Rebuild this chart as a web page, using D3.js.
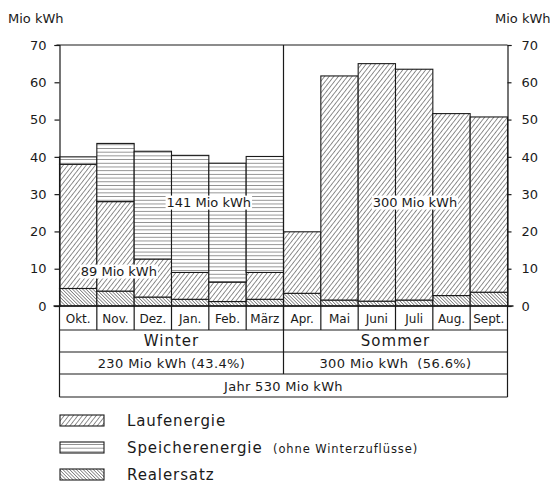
<!DOCTYPE html>
<html><head><meta charset="utf-8">
<script src="https://cdn.jsdelivr.net/npm/d3@7/dist/d3.min.js"></script>
<style>
html,body{margin:0;padding:0;background:#fff;}
svg{display:block;font-family:"DejaVu Sans",sans-serif;}
text{fill:#1a1a1a;}
</style></head>
<body><svg id="c" width="550" height="484"></svg>
<script>
const months = ["Okt.","Nov.","Dez.","Jan.","Feb.","März","Apr.","Mai","Juni","Juli","Aug.","Sept."];
const realersatz  = [4.7, 4.0, 2.4, 1.8, 1.2, 1.8, 3.4, 1.6, 1.3, 1.6, 2.8, 3.7];
const laufenergie = [33.3, 24.0, 10.2, 7.2, 5.2, 7.2, 16.5, 60.1, 63.7, 61.9, 48.8, 47.0];
const speicher    = [2.0, 15.6, 28.9, 31.4, 31.9, 31.1, 0, 0, 0, 0, 0, 0];
const yTicks = [0,10,20,30,40,50,60,70];
const seasons = ["Winter","Sommer"];
const seasonTotals = ["230 Mio kWh (43.4%)","300 Mio kWh  (56.6%)"];
const yearTotal = "Jahr 530 Mio kWh";
const annotations = [
  {text:"141 Mio kWh", month:"Jan.", value:27.6, dx:0.5},
  {text:"89 Mio kWh", month:"Nov.", value:9.1, dx:0.09},
  {text:"300 Mio kWh", month:"Juni", value:27.6, dx:1.02}
];
const legendItems = ["Laufenergie","Speicherenergie","Realersatz"];
const legendNote = "(ohne Winterzuflüsse)";
const unitLabel = "Mio kWh";

const svg = d3.select("#c");
const x = d3.scaleBand().domain(months).range([59.5, 507.5]).padding(0);
const y = d3.scaleLinear().domain([0,70]).range([306,45]);
const ink = "#1a1a1a";

// patterns
const defs = svg.append("defs");
function hatch(id, angle, spacing, w){
  const p = defs.append("pattern").attr("id",id).attr("patternUnits","userSpaceOnUse")
    .attr("width",spacing).attr("height",spacing)
    .attr("patternTransform",`rotate(${angle})`);
  p.append("rect").attr("width",spacing).attr("height",spacing).attr("fill","#fff");
  p.append("line").attr("x1",0).attr("y1",0).attr("x2",0).attr("y2",spacing)
    .attr("stroke","#222").attr("stroke-width",w);
}
hatch("pLauf", 38, 3.6, 1.0);
hatch("pReal", -45, 2.4, 0.95);
hatch("pSpeich", 90, 3.7, 0.95);
const fills = ["url(#pReal)","url(#pLauf)","url(#pSpeich)"];

const data = months.map((m,i)=>({m, r:realersatz[i], l:laufenergie[i], s:speicher[i]}));
const stack = d3.stack().keys(["r","l","s"])(data);

const g = svg.append("g");
stack.forEach((layer,k)=>{
  g.selectAll(null).data(layer.filter(d=>d[1]-d[0]>0)).join("rect")
    .attr("x",d=>x(d.data.m)).attr("width",x.bandwidth())
    .attr("y",d=>y(d[1])).attr("height",d=>y(d[0])-y(d[1]))
    .attr("fill",fills[k]).attr("stroke",ink).attr("stroke-width",1.1);
});

// annotations with white knockout
annotations.forEach(a=>{
  const cx = x(a.month)+x.bandwidth()/2 + a.dx*x.bandwidth();
  const t = svg.append("text").attr("x",cx).attr("y",y(a.value)).attr("text-anchor","middle")
    .attr("dominant-baseline","middle").attr("font-size",13).text(a.text);
  const bb = t.node().getBBox();
  svg.insert("rect", () => t.node()).attr("x",bb.x-1).attr("y",bb.y+1).attr("width",bb.width+2).attr("height",bb.height-1).attr("fill","#fff");
});

// frame
const L = x.range()[0], R = x.range()[1], T = y(70), B = y(0);
const line = (x1,y1,x2,y2,w=1.2)=>svg.append("line").attr("x1",x1).attr("y1",y1).attr("x2",x2).attr("y2",y2).attr("stroke",ink).attr("stroke-width",w);
line(L-3,T,R,T);
line(x("Apr."),T,x("Apr."),374);

// axes
const axL = svg.append("g").attr("transform",`translate(${L},0)`)
  .call(d3.axisLeft(y).tickValues(yTicks).tickSize(5).tickPadding(8).tickFormat(d3.format("d")));
const axR = svg.append("g").attr("transform",`translate(${R},0)`)
  .call(d3.axisRight(y).tickValues(yTicks).tickSize(4).tickPadding(10).tickFormat(d3.format("d")));
[axL,axR].forEach(a=>{
  a.selectAll("path.domain").attr("stroke",ink).attr("stroke-width",1.2);
  a.selectAll(".tick line").attr("stroke",ink).attr("stroke-width",1.2);
  a.selectAll(".tick text").attr("font-size",13).attr("font-family","DejaVu Sans").attr("fill",ink);
});
line(L-6,B,R+6,B,1.3);

svg.append("text").attr("x",8).attr("y",23).attr("font-size",13).text(unitLabel);
svg.append("text").attr("x",495).attr("y",23).attr("font-size",13).text(unitLabel);

// table
const rows = [306,330,352,374,397];
rows.slice(1).forEach(yy=>line(L,yy,R,yy));
line(L,B,L,397); line(R,B,R,397);
months.forEach((m,i)=>{
  if(i>0) line(x(m),B,x(m),330);
  svg.append("text").attr("x",x(m)+x.bandwidth()/2).attr("y",323).attr("text-anchor","middle")
    .attr("font-size",12).text(m);
});
const mid = x("Apr.");
const centers = [(L+mid)/2,(mid+R)/2];
seasons.forEach((s,i)=>svg.append("text").attr("x",centers[i]).attr("y",346).attr("text-anchor","middle")
  .attr("font-size",15).attr("letter-spacing",1).text(s));
seasonTotals.forEach((s,i)=>svg.append("text").attr("x",centers[i]).attr("y",368).attr("text-anchor","middle")
  .attr("font-size",13).attr("letter-spacing",0.4).attr("xml:space","preserve").style("white-space","pre").text(s));
svg.append("text").attr("x",(L+R)/2).attr("y",391).attr("text-anchor","middle")
  .attr("font-size",13).attr("letter-spacing",0.3).text(yearTotal);

// legend
const legFills = ["url(#pLauf)","url(#pSpeich)","url(#pReal)"];
legendItems.forEach((t,i)=>{
  const yy = 421 + i*27;
  svg.append("rect").attr("x",60).attr("y",yy-6).attr("width",44).attr("height",11)
    .attr("fill",legFills[i]).attr("stroke",ink).attr("stroke-width",1.1);
  svg.append("text").attr("x",127).attr("y",yy+5).attr("font-size",15).attr("letter-spacing",0.9).text(t);
  if(i===1) svg.append("text").attr("x",273).attr("y",yy+5).attr("font-size",11.5).attr("letter-spacing",0.9).text(legendNote);
});
</script></body></html>
